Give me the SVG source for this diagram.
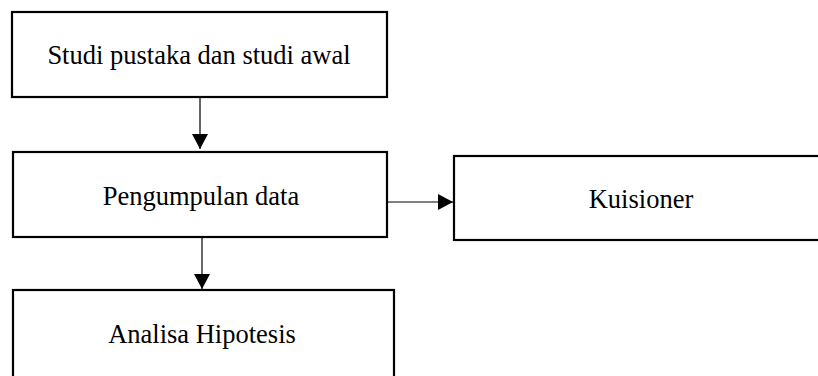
<svg xmlns="http://www.w3.org/2000/svg" width="818" height="376" viewBox="0 0 818 376">
  <style>
    .box { fill: #ffffff; stroke: #000000; stroke-width: 2.2; }
    .lbl { font-family: "Liberation Serif", "Times New Roman", serif; font-size: 26.5px; fill: #000000; text-anchor: middle; }
    .conn { stroke: #000000; stroke-width: 1.2; fill: none; }
  </style>
  <defs>
    <marker id="arrow" viewBox="0 0 15 16" refX="15" refY="8" markerWidth="15" markerHeight="16" markerUnits="userSpaceOnUse" orient="auto">
      <path d="M0,0 L15,8 L0,16 Z" fill="#000000"/>
    </marker>
  </defs>
  <rect width="818" height="376" fill="#ffffff"/>
  <g id="studi">
    <rect class="box" x="12" y="12" width="375" height="85"/>
    <text class="lbl" x="199" y="64">Studi pustaka dan studi awal</text>
  </g>
  <g id="pengumpulan">
    <rect class="box" x="13" y="152" width="374" height="85"/>
    <text class="lbl" x="201" y="205">Pengumpulan data</text>
  </g>
  <g id="kuisioner">
    <rect class="box" x="454" y="156" width="370" height="84"/>
    <text class="lbl" x="641" y="208">Kuisioner</text>
  </g>
  <g id="analisa">
    <rect class="box" x="13" y="290" width="381" height="90"/>
    <text class="lbl" x="202" y="343">Analisa Hipotesis</text>
  </g>
  <g id="connectors">
    <line class="conn" x1="200" y1="97" x2="200" y2="149" marker-end="url(#arrow)"/>
    <line class="conn" x1="387" y1="202" x2="453" y2="202" marker-end="url(#arrow)"/>
    <line class="conn" x1="202" y1="237" x2="202" y2="289" marker-end="url(#arrow)"/>
  </g>
</svg>
